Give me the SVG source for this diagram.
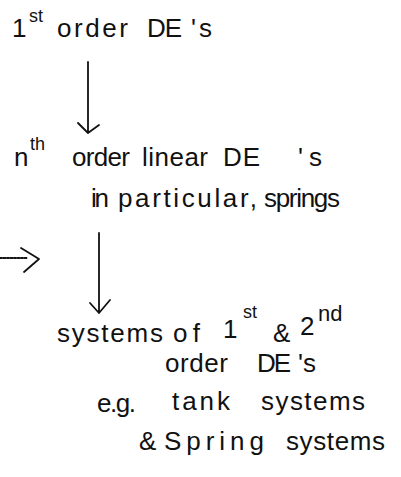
<svg xmlns="http://www.w3.org/2000/svg" width="401" height="477" viewBox="0 0 401 477">
<style>
text{font-family:"Liberation Sans","DejaVu Sans",sans-serif;font-size:26px;fill:#111}
.sup{font-size:18px}
.ln{stroke:#111;stroke-width:1.8;fill:none;stroke-linecap:round;stroke-linejoin:round}
</style>
<rect width="401" height="477" fill="#fff"/>
<g id="node-first-order">
<text x="12" y="37">1</text>
<text class="sup" x="29" y="22">st</text>
<text x="57" y="37" textLength="71" lengthAdjust="spacing">order</text>
<text x="147" y="37" textLength="35" lengthAdjust="spacing">DE</text>
<text x="191" y="37" textLength="21" lengthAdjust="spacing">'s</text>
</g>
<g id="node-nth-order">
<text x="14" y="166">n</text>
<text class="sup" x="30" y="150">th</text>
<text x="72" y="166" textLength="58" lengthAdjust="spacing">order</text>
<text x="142" y="166" textLength="66" lengthAdjust="spacing">linear</text>
<text x="223" y="166" textLength="37" lengthAdjust="spacing">DE</text>
<text x="298" y="166" textLength="24" lengthAdjust="spacing">'s</text>
<text x="91" y="207" textLength="18" lengthAdjust="spacing">in</text>
<text x="118" y="207" textLength="139" lengthAdjust="spacing">particular,</text>
<text x="264" y="207" textLength="76" lengthAdjust="spacing">springs</text>
</g>
<g id="node-systems">
<text x="57" y="342" textLength="106" lengthAdjust="spacing">systems</text>
<text x="173" y="342" textLength="27" lengthAdjust="spacing">of</text>
<text x="223" y="338">1</text>
<text class="sup" x="243" y="318">st</text>
<text x="273" y="342">&amp;</text>
<text x="300" y="335">2</text>
<text class="sup" x="318" y="321" style="font-size:22px">nd</text>
<text x="165" y="372" textLength="63" lengthAdjust="spacing">order</text>
<text x="257" y="372" textLength="34" lengthAdjust="spacing">DE</text>
<text x="298" y="372" textLength="18" lengthAdjust="spacing">'s</text>
<text x="97" y="412" textLength="39" lengthAdjust="spacing">e.g.</text>
<text x="172" y="410" textLength="58" lengthAdjust="spacing">tank</text>
<text x="261" y="410" textLength="104" lengthAdjust="spacing">systems</text>
<text x="139" y="450">&amp;</text>
<text x="164" y="450" textLength="100" lengthAdjust="spacing">Spring</text>
<text x="286" y="450" textLength="99" lengthAdjust="spacing">systems</text>
</g>
<g id="connectors">
<path class="ln" d="M88 62 L88 133 M78 123 L88 133 L99 125"/>
<path class="ln" d="M99 233 L99 313 M90 303 L99 313 L110 300"/>
<path class="ln" d="M0 258 L27 258" stroke-dasharray="2 1.5" stroke-width="1"/>
<path class="ln" d="M21 248 L39 259 L24 272" stroke-width="3"/>
</g>
</svg>
